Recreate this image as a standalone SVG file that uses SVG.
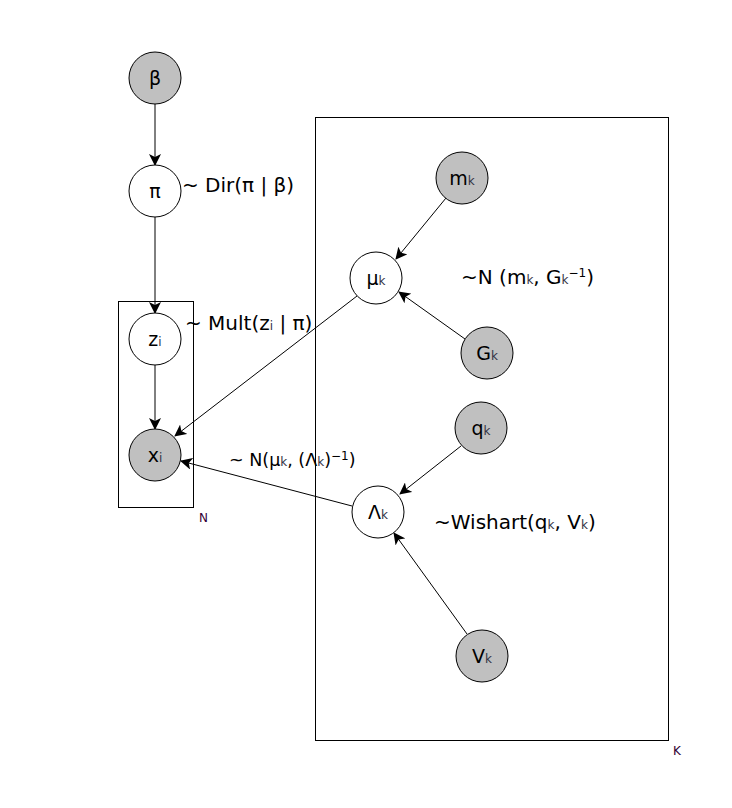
<svg xmlns="http://www.w3.org/2000/svg" width="732" height="808" viewBox="0 0 732 808">
  <style>
    .node { stroke: #000; stroke-width: 1; }
    .obs { fill: #c0c0c0; }
    .lat { fill: #fff; }
    .plate { fill: none; stroke: #000; stroke-width: 1; }
    .edge { stroke: #000; stroke-width: 1; fill: none; marker-end: url(#arr); }
    text { font-family: "DejaVu Sans", Verdana, sans-serif; fill: #000; }
    .lbl { font-size: 19px; text-anchor: middle; }
    .eq { font-size: 20px; }
    .sub { font-size: 12px; fill: #334; }
    .sup { font-size: 12px; }
    .plab { font-size: 12px; fill: #303; }
  </style>
  <defs>
    <marker id="arr" viewBox="0 0 12 12" refX="11" refY="6" markerWidth="12" markerHeight="12" markerUnits="userSpaceOnUse" orient="auto">
      <path d="M0,0 L12,6 L0,12 L3,6 Z" fill="#000"/>
    </marker>
  </defs>

  <!-- plates -->
  <g id="plate-N">
    <rect class="plate" x="118.5" y="301.5" width="75" height="206"/>
    <text class="plab" x="199" y="522">N</text>
  </g>
  <g id="plate-K">
    <rect class="plate" x="315.5" y="117.5" width="353" height="623"/>
    <text class="plab" x="673" y="755">K</text>
  </g>

  <!-- connectors -->
  <g id="edges">
    <line class="edge" x1="155" y1="104" x2="155" y2="165"/>
    <line class="edge" x1="155" y1="217" x2="155" y2="313"/>
    <line class="edge" x1="155" y1="365" x2="155" y2="429"/>
    <line class="edge" x1="357" y1="296" x2="175" y2="436"/>
    <line class="edge" x1="352" y1="506" x2="181" y2="461"/>
    <line class="edge" x1="446" y1="198" x2="396" y2="259"/>
    <line class="edge" x1="465" y1="339" x2="399" y2="292"/>
    <line class="edge" x1="461" y1="446" x2="400" y2="494"/>
    <line class="edge" x1="467" y1="634" x2="394" y2="533"/>
  </g>

  <!-- nodes -->
  <g id="beta">
    <circle class="node obs" cx="155" cy="78" r="26"/>
    <text class="lbl" x="155" y="85">β</text>
  </g>
  <g id="pi">
    <circle class="node lat" cx="155" cy="191" r="26"/>
    <text class="lbl" x="155" y="198">π</text>
  </g>
  <g id="z">
    <circle class="node lat" cx="155" cy="339" r="26"/>
    <text class="lbl" x="155" y="346">z<tspan class="sub">i</tspan></text>
  </g>
  <g id="x">
    <circle class="node obs" cx="155" cy="455" r="26"/>
    <text class="lbl" x="155" y="462">x<tspan class="sub">i</tspan></text>
  </g>
  <g id="m">
    <circle class="node obs" cx="462" cy="178" r="26"/>
    <text class="lbl" x="462" y="185">m<tspan class="sub">k</tspan></text>
  </g>
  <g id="mu">
    <circle class="node lat" cx="376" cy="278" r="26"/>
    <text class="lbl" x="376" y="285">μ<tspan class="sub">k</tspan></text>
  </g>
  <g id="G">
    <circle class="node obs" cx="487" cy="353" r="26"/>
    <text class="lbl" x="487" y="360">G<tspan class="sub">k</tspan></text>
  </g>
  <g id="q">
    <circle class="node obs" cx="481" cy="428" r="26"/>
    <text class="lbl" x="481" y="435">q<tspan class="sub">k</tspan></text>
  </g>
  <g id="Lambda">
    <circle class="node lat" cx="378" cy="512" r="26"/>
    <text class="lbl" x="378" y="519">Λ<tspan class="sub">k</tspan></text>
  </g>
  <g id="V">
    <circle class="node obs" cx="482" cy="656" r="26"/>
    <text class="lbl" x="482" y="663">V<tspan class="sub">k</tspan></text>
  </g>

  <!-- distribution labels -->
  <g id="labels">
    <text class="eq" x="182" y="192">~ Dir(π | β)</text>
    <text class="eq" x="185" y="330">~ Mult(z<tspan class="sub">i</tspan> | π)</text>
    <text class="eq" x="461" y="284">~N (m<tspan class="sub">k</tspan>, G<tspan class="sub">k</tspan><tspan class="sup" dy="-7">−1</tspan><tspan dy="7">)</tspan></text>
    <text class="eq" x="229" y="466" style="font-size:17.5px">~ N(μ<tspan class="sub">k</tspan>, (Λ<tspan class="sub">k</tspan>)<tspan class="sup" dy="-6">−1</tspan><tspan dy="6">)</tspan></text>
    <text class="eq" x="434" y="529">~Wishart(q<tspan class="sub">k</tspan>, V<tspan class="sub">k</tspan>)</text>
  </g>
</svg>
